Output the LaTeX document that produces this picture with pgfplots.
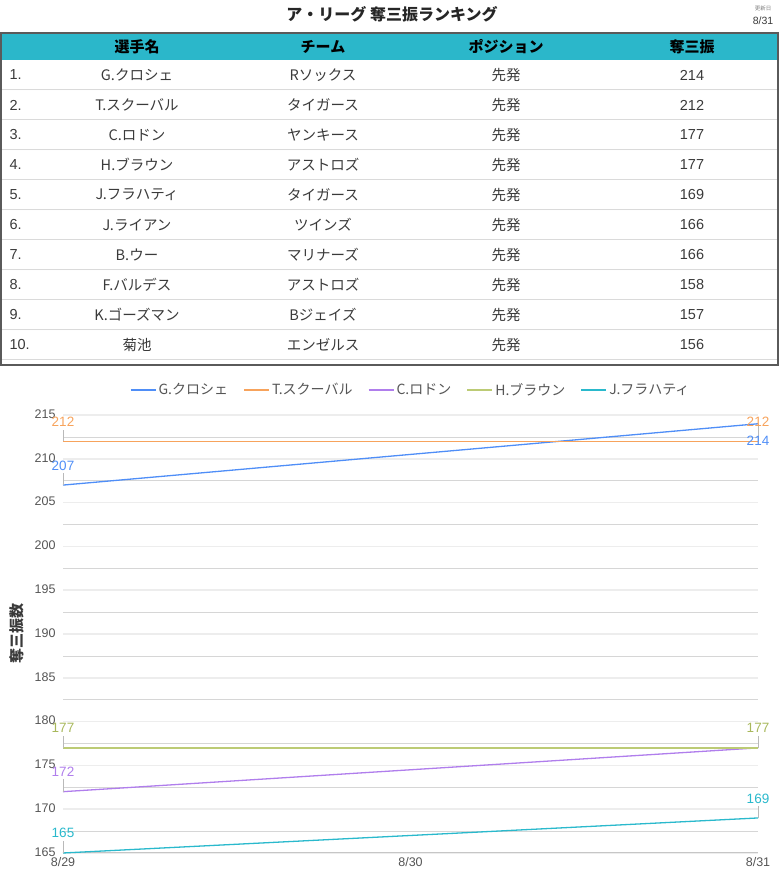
\documentclass[border=0pt]{standalone}
\usepackage{fontspec}
\setmainfont{Liberation Sans}
\newfontfamily\jp{Noto Sans CJK JP}
\usepackage{pgfplots}
\pgfplotsset{compat=1.18}
\usepackage{pgfplotstable}

\definecolor{hdr}{HTML}{2BB7CA}
\definecolor{rowgray}{HTML}{F6F7F9}
\definecolor{sepgray}{HTML}{DADADA}
\definecolor{bordergray}{HTML}{5A5A5A}
\definecolor{txt}{HTML}{3A3A3A}
\definecolor{lblgray}{HTML}{555555}
\definecolor{cg}{HTML}{4F8EF7}
\definecolor{ct}{HTML}{F7A35C}
\definecolor{cc}{HTML}{B07EEC}
\definecolor{ch}{HTML}{BCCB75}
\definecolor{chl}{HTML}{A8B85C}
\definecolor{cj}{HTML}{2AB9CC}

% x: 0 = 8/29, 1 = 8/30, 2 = 8/31
\pgfplotstableread{
x y ep em sh lab
0 207 1.4 0 19.5 207
2 214 0 1.1 -17 214
}\gdata
\pgfplotstableread{
x y ep em sh lab
0 212 1.3 0 19 212
2 212 1.3 0 19 212
}\tdata
\pgfplotstableread{
x y ep em sh lab
0 172 1.4 0 20 172
2 177 0 0 0 {}
}\cdata
\pgfplotstableread{
x y ep em sh lab
0 177 1.4 0 20.5 177
2 177 1.4 0 20.5 177
}\hdata
\pgfplotstableread{
x y ep em sh lab
0 165 1.4 0 20.5 165
2 169 1.4 0 19.5 169
}\jdata

\pgfplotsset{
  lab/.style={
    nodes near coords, point meta=explicit symbolic,
    visualization depends on={\thisrow{sh}\as\sh},
    nodes near coords style={anchor=center, yshift=\sh pt,
      font=\fontsize{13.5}{15}\selectfont, text=#1},
    error bars/.cd, y dir=both, y explicit, error mark=none,
    error bar style={draw=gray!55, line width=0.8pt, solid},
  },
}

\begin{document}
\begin{tikzpicture}[x=1pt,y=1pt]
\path[use as bounding box] (0,0) rectangle (780,878);

% title and date
\node[font=\jp\bfseries\fontsize{16}{18}\selectfont, text=black!85] at (392,864) {ア・リーグ 奪三振ランキング};
\node[font=\jp\fontsize{5.5}{6}\selectfont, text=gray] at (763,869.5) {更新日};
\node[font=\fontsize{10.5}{12}\selectfont, text=txt] at (763,857.5) {8/31};

% ranking table
\fill[hdr] (1,818) rectangle (778,845);
\foreach \i in {2,4,...,10}
  \fill[rowgray] (1,{848-30*\i}) rectangle (778,{818-30*(\i-1)});
\foreach \i in {1,...,10}
  \draw[sepgray, line width=1pt] (1,{818-30*\i}) -- (778,{818-30*\i});
\draw[bordergray, line width=1.5pt] (1,513) rectangle (778,845);

\foreach \x/\h in {137/選手名, 323/チーム, 506/ポジション, 692/奪三振}
  \node[font=\jp\bfseries\fontsize{15}{17}\selectfont, text=black] at (\x,831.5) {\h};

\foreach \nm/\tm/\ps/\k [count=\i] in {
  G.クロシェ/Rソックス/先発/214,
  T.スクーバル/タイガース/先発/212,
  C.ロドン/ヤンキース/先発/177,
  H.ブラウン/アストロズ/先発/177,
  J.フラハティ/タイガース/先発/169,
  J.ライアン/ツインズ/先発/166,
  B.ウー/マリナーズ/先発/166,
  F.バルデス/アストロズ/先発/158,
  K.ゴーズマン/Bジェイズ/先発/157,
  菊池/エンゼルス/先発/156} {
  \node[anchor=west, font=\fontsize{14.5}{16}\selectfont, text=txt] at (6,{803-30*(\i-1)}) {\i.};
  \node[font=\jp\fontsize{14.5}{16}\selectfont, text=txt] at (137,{803-30*(\i-1)}) {\nm};
  \node[font=\jp\fontsize{14.5}{16}\selectfont, text=txt] at (323,{803-30*(\i-1)}) {\tm};
  \node[font=\jp\fontsize{14.5}{16}\selectfont, text=txt] at (506,{803-30*(\i-1)}) {\ps};
  \node[font=\fontsize{14.5}{16}\selectfont, text=txt] at (692,{803-30*(\i-1)}) {\k};
}

% line chart
\begin{axis}[
  at={(63pt,25pt)}, anchor=south west,
  scale only axis, width=695pt, height=438pt,
  xmin=0, xmax=2, ymin=165, ymax=215,
  xtick={0,1,2}, xticklabels={8/29,8/30,8/31},
  ytick={165,170,...,215},
  minor ytick={167.5,172.5,...,212.5},
  ymajorgrids, yminorgrids,
  major grid style={draw=gray!14, line width=1.6pt},
  minor grid style={draw=gray!32, line width=0.7pt},
  axis x line*=bottom, axis y line*=left,
  x axis line style={draw=gray!45, line width=1pt, -},
  y axis line style={draw=none},
  major tick length=0pt, minor tick length=0pt,
  tick label style={font=\fontsize{12.5}{14}\selectfont, text=lblgray},
  /pgf/number format/assume math mode=true,
  yticklabel style={xshift=-4pt, yshift=1pt},
  xticklabel style={yshift=-1pt},
  ylabel={奪三振数},
  ylabel style={at={(axis description cs:0,0.5)}, anchor=center, xshift=0pt, yshift=46.5pt,
    font=\jp\bfseries\fontsize{15}{17}\selectfont, text=txt},
  clip=false,
  legend columns=5,
  legend style={at={(0.5,1)}, anchor=center, yshift=25pt, draw=none, fill=none,
    font=\jp\fontsize{14}{16}\selectfont, text=lblgray,
    /tikz/every even column/.append style={column sep=13pt}},
  legend image code/.code={\draw[#1, line width=2pt] (0pt,0pt) -- (25pt,0pt);},
]
\addplot[cg, line width=1.3pt, lab=cg]
  table[x=x, y=y, y error plus=ep, y error minus=em, meta=lab] {\gdata};
\addlegendentry{G.クロシェ}
\addplot[ct, line width=1.3pt, lab=ct]
  table[x=x, y=y, y error plus=ep, y error minus=em, meta=lab] {\tdata};
\addlegendentry{T.スクーバル}
\addplot[cc, line width=1.3pt, lab=cc]
  table[x=x, y=y, y error plus=ep, y error minus=em, meta=lab] {\cdata};
\addlegendentry{C.ロドン}
\addplot[ch, line width=1.3pt, lab=chl]
  table[x=x, y=y, y error plus=ep, y error minus=em, meta=lab] {\hdata};
\addlegendentry{H.ブラウン}
\addplot[cj, line width=1.3pt, lab=cj]
  table[x=x, y=y, y error plus=ep, y error minus=em, meta=lab] {\jdata};
\addlegendentry{J.フラハティ}
\end{axis}
\end{tikzpicture}
\end{document}
